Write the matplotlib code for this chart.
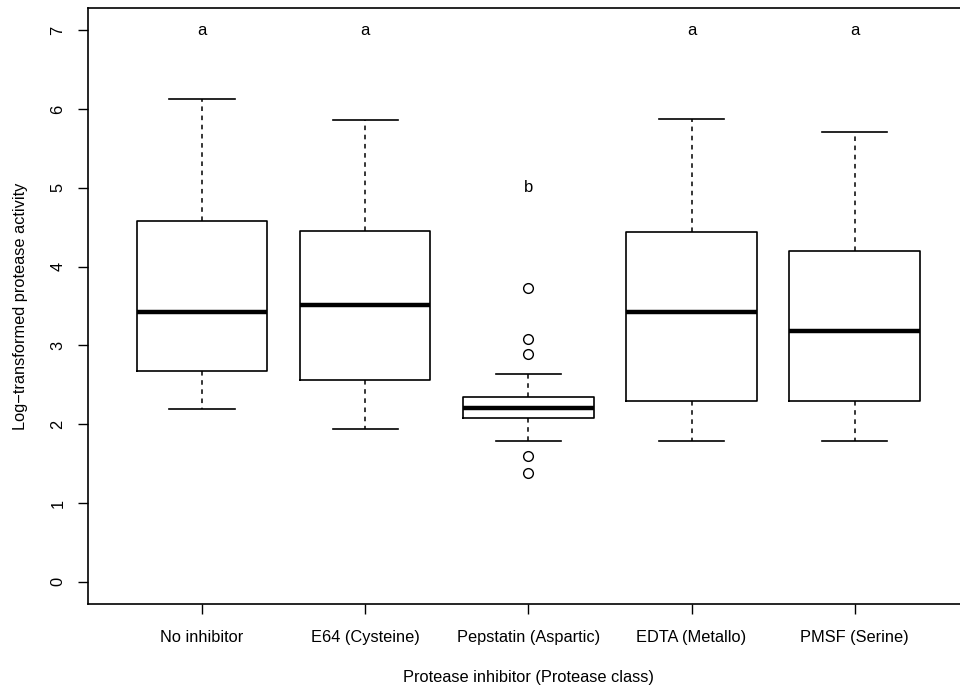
import matplotlib
matplotlib.use("Agg")
import matplotlib.pyplot as plt

plt.rcParams['font.family'] = ['Liberation Sans', 'DejaVu Sans']

categories = ["No inhibitor", "E64 (Cysteine)", "Pepstatin (Aspartic)", "EDTA (Metallo)", "PMSF (Serine)"]
whisker_low = [2.19, 1.94, 1.79, 1.79, 1.79]
q1 = [2.67, 2.56, 2.08, 2.29, 2.29]
median = [3.42, 3.51, 2.20, 3.42, 3.18]
q3 = [4.58, 4.45, 2.34, 4.44, 4.20]
whisker_high = [6.12, 5.86, 2.64, 5.87, 5.71]
outliers = [[], [], [3.73, 3.08, 2.89, 1.60, 1.38], [], []]
letters = ["a", "a", "b", "a", "a"]
letter_y = [7, 7, 5, 7, 7]
yticks = [0, 1, 2, 3, 4, 5, 6, 7]

fig = plt.figure(figsize=(9.6, 6.87), dpi=100)
ax = fig.add_axes([87.7/960, 1-604/687, (969-87.7)/960, (604-8)/687])

stats = []
for i in range(len(categories)):
    stats.append(dict(med=median[i], q1=q1[i], q3=q3[i], whislo=whisker_low[i],
                      whishi=whisker_high[i], fliers=outliers[i], label=categories[i]))

positions = list(range(1, len(categories)+1))
ax.bxp(stats, positions=positions, widths=0.8, showfliers=True, patch_artist=False,
       boxprops=dict(color='black', linewidth=1.2),
       medianprops=dict(color='black', linewidth=3.2, solid_capstyle='butt'),
       whiskerprops=dict(color='black', linewidth=1.1, linestyle=(0, (3, 3))),
       capprops=dict(color='black', linewidth=1.2),
       capwidths=0.4,
       flierprops=dict(marker='o', markerfacecolor='white', markeredgecolor='black',
                       markersize=7, markeredgewidth=1.0))

for p, l, yv in zip(positions, letters, letter_y):
    ax.text(p, yv, l, ha='center', va='center', fontsize=12)

ax.set_xlim(0.3, 5.7)
ax.set_ylim(-0.28, 7.28)
ax.set_yticks(yticks)
ax.set_yticklabels([str(v) for v in yticks], rotation=90, va='center')
ax.set_xticks(positions)
ax.set_xticklabels(categories)
ax.tick_params(axis='both', direction='out', length=7, width=1, labelsize=11.8)
ax.tick_params(axis='x', pad=12)
ax.tick_params(axis='y', pad=9)
for s in ax.spines.values():
    s.set_linewidth(1.2)

ax.set_xlabel("Protease inhibitor (Protease class)", fontsize=11.8, labelpad=18)
ax.set_ylabel("Log\u2212transformed protease activity", fontsize=11.8, labelpad=16)

fig.savefig("out.png", dpi=100)
